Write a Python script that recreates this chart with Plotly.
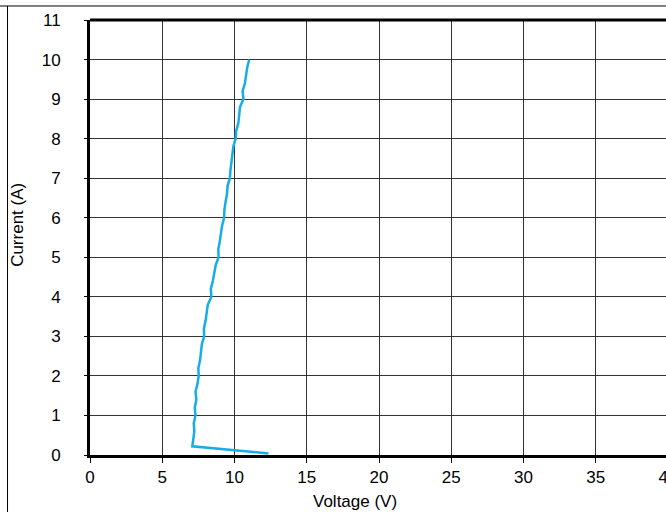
import plotly.graph_objects as go

# Measured I-V curve (voltage in V, current in A)
voltage = [12.35, 7.08, 7.15, 7.22, 7.18, 7.3, 7.25, 7.36, 7.3, 7.44, 7.52,
           7.5, 7.62, 7.66, 7.74, 7.9, 7.88, 8.0, 8.1, 8.15, 8.4,
           8.36, 8.5, 8.6, 8.7, 8.9, 8.88, 8.98, 9.05, 9.14, 9.28,
           9.3, 9.38, 9.48, 9.52, 9.68, 9.72, 9.78, 9.88, 9.92, 10.08,
           10.12, 10.27, 10.32, 10.38, 10.62, 10.56, 10.72, 10.78, 10.88, 11.02]
current = [0.04, 0.22, 0.4, 0.6, 0.8, 1.0, 1.2, 1.4, 1.6, 1.8, 2.0,
           2.2, 2.4, 2.6, 2.8, 3.0, 3.2, 3.4, 3.6, 3.8, 4.0,
           4.2, 4.4, 4.6, 4.8, 5.0, 5.2, 5.4, 5.6, 5.8, 6.0,
           6.2, 6.4, 6.6, 6.8, 7.0, 7.2, 7.4, 7.6, 7.8, 8.0,
           8.2, 8.4, 8.6, 8.8, 9.0, 9.2, 9.4, 9.6, 9.8, 10.0]

x_ticks = [0, 5, 10, 15, 20, 25, 30, 35, 40]
y_ticks = list(range(0, 12))

FONT = "Liberation Sans, Arial, Helvetica, sans-serif"

fig = go.Figure()
fig.add_trace(go.Scatter(x=voltage, y=current, mode="lines",
                         line=dict(color="#16ACE8", width=2.5),
                         showlegend=False, hoverinfo="x+y"))

fig.update_layout(
    width=668, height=512,
    margin=dict(l=90, r=0, t=20, b=57, autoexpand=False),
    paper_bgcolor="white", plot_bgcolor="white",
    font=dict(family=FONT, size=17, color="black"),
    xaxis=dict(range=[0, 40], tickvals=x_ticks, showgrid=True,
               gridcolor="#333333", gridwidth=1, zeroline=False,
               showline=True, linecolor="black", linewidth=3,
               ticks="outside", ticklen=5, tickcolor="black",
               tickfont=dict(size=17), ticklabelstandoff=0,
               ticklabeloverflow="allow", automargin=False),
    yaxis=dict(range=[0, 11], tickvals=y_ticks, showgrid=True,
               gridcolor="#333333", gridwidth=1, zeroline=False,
               showline=True, linecolor="black", linewidth=3,
               ticks="outside", ticklen=3, tickcolor="black",
               tickfont=dict(size=17), ticklabelstandoff=20,
               automargin=False),
    shapes=[
        # top thick border of plot area
        dict(type="line", xref="paper", yref="paper", x0=0, x1=1, y0=1, y1=1,
             line=dict(color="black", width=3)),
        # thin outer frame lines
        dict(type="line", xref="paper", yref="paper", x0=-0.2, x1=1.05,
             y0=1.0322, y1=1.0322, line=dict(color="black", width=1)),
        dict(type="line", xref="paper", yref="paper", x0=-0.1427, x1=-0.1427,
             y0=1.0322, y1=-0.14, line=dict(color="black", width=1)),
    ],
    annotations=[
        dict(text="Current (A)", xref="paper", yref="paper", x=-0.1246, y=0.529,
             textangle=-90, showarrow=False, font=dict(size=17),
             xanchor="center", yanchor="middle"),
        dict(text="Voltage (V)", xref="paper", yref="paper", x=0.4585, y=-0.108,
             showarrow=False, font=dict(size=17),
             xanchor="center", yanchor="middle"),
    ],
)

fig.write_html("out.html",
               config={"displayModeBar": False},
               post_script="document.body.style.margin='0px';"
                           "document.body.style.overflow='hidden';")
